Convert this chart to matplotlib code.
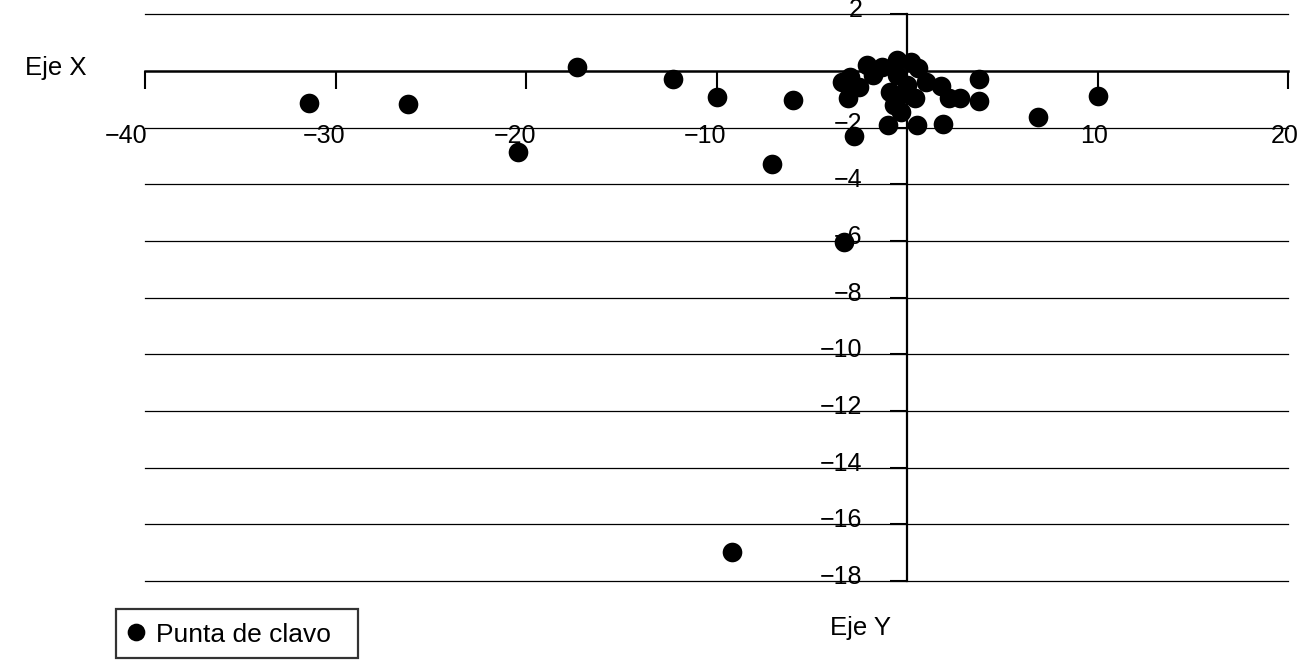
import matplotlib
matplotlib.use('Agg')
from matplotlib import pyplot as plt
from matplotlib import transforms as mtransforms

plt.rcParams['font.family'] = ['Liberation Sans', 'DejaVu Sans']

# puntos medidos (Eje X, Eje Y)
x_vals = [-31.4, -26.2, -20.4, -17.3, -12.3, -10.0, -7.1, -6.0, -3.3, -9.2,
          6.9, 10.0, 3.8, 3.8, 2.8, 2.2, 1.8, 1.9, 0.5, -1.0, -2.8,
          -2.1, -1.3, -0.5, 0.2, 0.6, 1.0, -3.4, -3.0, -2.5, -3.1,
          -0.9, 0.0, 0.4, -0.7, -0.3, -0.5, -0.5, -1.8]
y_vals = [-1.13, -1.16, -2.86, 0.14, -0.28, -0.92, -3.28, -1.02, -6.04, -16.98,
          -1.62, -0.88, -0.28, -1.06, -0.95, -0.95, -0.53, -1.87, -1.91, -1.91, -2.29,
          0.21, 0.14, 0.39, 0.32, 0.11, -0.39, -0.39, -0.21, -0.56, -0.95,
          -0.74, -0.49, -0.95, -1.2, -1.45, -0.95, -0.14, -0.14]

x_ticks = [-40, -30, -20, -10, 10, 20]
y_ticks = [2, -2, -4, -6, -8, -10, -12, -14, -16, -18]

fig = plt.figure(figsize=(13.13, 6.67), dpi=100, facecolor='white')
ax = fig.add_axes([145/1313, 1-581/667, (1288-145)/1313, (581-14.3)/667])

ax.scatter(x_vals, y_vals, s=200, color='black', zorder=3, label='Punta de clavo',
           linewidths=0)

ax.set_xlim(-40, 20)
ax.set_ylim(-18, 2)

# ejes cruzando en el origen
ax.spines['left'].set_position(('data', 0))
ax.spines['bottom'].set_position(('data', 0))
ax.spines['right'].set_visible(False)
ax.spines['top'].set_visible(False)
ax.spines['left'].set_linewidth(1.6)
ax.spines['bottom'].set_linewidth(1.8)

ax.set_xticks(x_ticks)
ax.set_yticks(y_ticks)
ax.set_xticklabels([str(v).replace('-', '\u2212') for v in x_ticks])
ax.set_yticklabels([str(v).replace('-', '\u2212') for v in y_ticks])
ax.tick_params(axis='x', direction='out', length=13, width=1.5, pad=25.5, labelsize=18)
ax.tick_params(axis='y', direction='out', length=12, width=1.5, pad=20, labelsize=18)

# etiquetas del eje Y un poco arriba de las lineas
off_y = mtransforms.ScaledTranslation(0, 0.065, fig.dpi_scale_trans)
for lab in ax.get_yticklabels():
    lab.set_transform(lab.get_transform() + off_y)
# etiquetas negativas del eje X algo a la izquierda
for v, lab in zip(x_ticks, ax.get_xticklabels()):
    dx = -0.11 if v < 0 else -0.03
    if v == -40:
        dx = -0.19
    lab.set_transform(lab.get_transform() + mtransforms.ScaledTranslation(dx, 0, fig.dpi_scale_trans))

ax.yaxis.grid(True, color='black', linewidth=0.9)
for gl in ax.get_ygridlines():
    gl.set_clip_on(False)
ax.set_axisbelow(True)

fig.text(25/1313, 1-68/667, 'Eje X', fontsize=18.5, ha='left', va='center')
fig.text(860/1313, 1-628/667, 'Eje Y', fontsize=18.5, ha='center', va='center')

leg = fig.legend(loc='lower left', bbox_to_anchor=(116/1313, 9/667, 242/1313, 48/667),
                 mode='expand', fontsize=19,
                 frameon=True, fancybox=False, edgecolor='black', borderaxespad=0,
                 handletextpad=0.4, handlelength=0.7, handleheight=1.15,
                 borderpad=0.42, markerscale=0.9)
leg.get_frame().set_linewidth(1.6)

fig.savefig('out.png', dpi=100)
